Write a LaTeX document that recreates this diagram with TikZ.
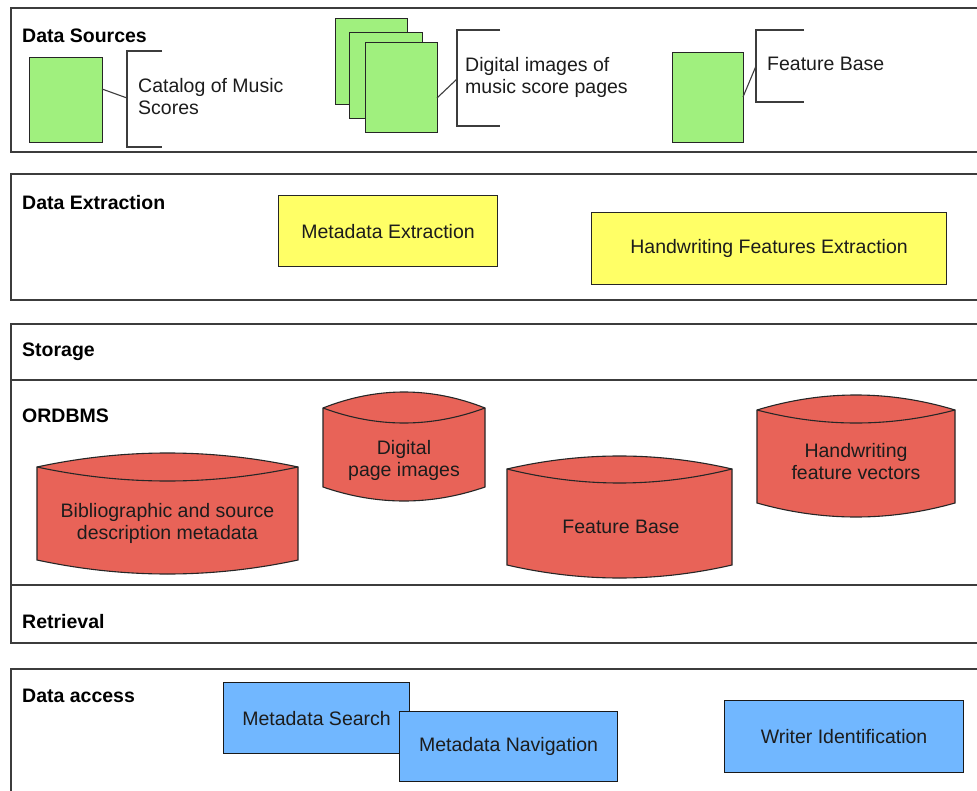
\documentclass[tikz,border=0pt]{standalone}
\usepackage{fontspec}
\setmainfont{Liberation Sans}
\usetikzlibrary{calc}

\definecolor{frameline}{HTML}{3C3C3C}
\definecolor{srcgreen}{HTML}{A0F07E}
\definecolor{extyellow}{HTML}{FFFF66}
\definecolor{dbred}{HTML}{E86358}
\definecolor{accblue}{HTML}{71B7FF}
\definecolor{inktext}{HTML}{1C1C1C}

\tikzset{
  layerframe/.style={draw=frameline, line width=1.6pt},
  layertitle/.style={anchor=base west, inner sep=0pt, text=black,
    font=\fontsize{19.5}{22}\selectfont\bfseries},
  plaintext/.style={inner sep=0pt, text=inktext,
    font=\fontsize{19.5}{22}\selectfont},
  docsheet/.style={draw=black!85, line width=1.1pt, fill=srcgreen,
    inner sep=0pt, anchor=north west},
  callout/.style={draw=frameline, line width=1.1pt},
  procbox/.style={draw=black!85, line width=1.1pt, fill=extyellow,
    inner sep=0pt, anchor=north west, text=inktext,
    font=\fontsize{19.5}{22}\selectfont},
  accessbox/.style={draw=black!90, line width=1.1pt, fill=accblue,
    inner sep=0pt, anchor=north west, text=inktext,
    font=\fontsize{19.5}{22}\selectfont},
  dbshape/.style={fill=dbred, draw=black!85, line width=1.1pt},
  dbline/.style={draw=black!85, line width=1.1pt},
}

% database cylinder: x left, x right, lid peak, lid corners, lid lower arc,
% bottom corners, bottom arc (each arc a parabola through its corners)
\newcommand{\dbcyl}[7]{%
  \path[dbshape] (#1,#4)
    .. controls ({#1+(#2-#1)/3},{#4+(#3-#4)*4/3}) and ({#2-(#2-#1)/3},{#4+(#3-#4)*4/3}) .. (#2,#4)
    -- (#2,#6)
    .. controls ({#2-(#2-#1)/3},{#6+(#7-#6)*4/3}) and ({#1+(#2-#1)/3},{#6+(#7-#6)*4/3}) .. (#1,#6)
    -- cycle;
  \draw[dbline] (#1,#4)
    .. controls ({#1+(#2-#1)/3},{#4+(#5-#4)*4/3}) and ({#2-(#2-#1)/3},{#4+(#5-#4)*4/3}) .. (#2,#4);
}

\begin{document}
\begin{tikzpicture}[x=1pt, y=-1pt]
\useasboundingbox[fill=white] (0,0) rectangle (977,791);
\clip (0,0) rectangle (977,791);

% ---------- layer frames ----------
\draw[layerframe] (990,8) -- (11,8) -- (11,152) -- (990,152);
\draw[layerframe] (990,174) -- (11,174) -- (11,300) -- (990,300);
\draw[layerframe] (990,324) -- (11,324) -- (11,643) -- (990,643);
\draw[layerframe] (11,380) -- (990,380);
\draw[layerframe] (11,585) -- (990,585);
\draw[layerframe] (990,669) -- (11,669) -- (11,800);

% ---------- layer titles ----------
\node[layertitle] (tSources) at (22,43) {Data Sources};
\node[layertitle] (tExtract) at (22,210) {Data Extraction};
\node[layertitle] (tStorage) at (22,357) {Storage};
\node[layertitle] (tOrdbms) at (22,422) {ORDBMS};
\node[layertitle] (tRetrieval) at (22,628) {Retrieval};
\node[layertitle] (tAccess) at (22,702) {Data access};

% ---------- data sources ----------
\node[docsheet, minimum width=73pt, minimum height=85pt] (catalog) at (29,57) {};
\draw[callout] (162,51) -- (127,51) -- (127,147) -- (162,147);
\coordinate (catBr) at (127,98);
\coordinate (catOut) at (102,89);
\draw[callout] (catOut) -- (catBr);
\node[plaintext, anchor=base west, align=left] (catText) at (138,115)
  {Catalog of Music\\Scores};

\node[docsheet, minimum width=72pt, minimum height=86pt] (page1) at (335,18) {};
\node[docsheet, minimum width=73pt, minimum height=86pt] (page2) at (349,32) {};
\node[docsheet, minimum width=72pt, minimum height=90pt] (page3) at (365,42) {};
\draw[callout] (500,30) -- (457,30) -- (457,126) -- (500,126);
\coordinate (pgBr) at (457,79);
\coordinate (pgOut) at (437,98);
\draw[callout] (pgOut) -- (pgBr);
\node[plaintext, anchor=base west, align=left] (pgText) at (465,94)
  {Digital images of\\music score pages};

\node[docsheet, minimum width=71pt, minimum height=90pt] (featsrc) at (672,52) {};
\draw[callout] (804,30) -- (756,30) -- (756,102) -- (804,102);
\coordinate (fbBr) at (756,66);
\coordinate (fbOut) at (743,97);
\draw[callout] (fbOut) -- (fbBr);
\node[plaintext, anchor=base west] (fbText) at (767,71) {Feature Base};

% ---------- data extraction ----------
\node[procbox, minimum width=219pt, minimum height=71pt] (metaExt) at (278,195)
  {Metadata Extraction};
\node[procbox, minimum width=355pt, minimum height=72pt] (hwExt) at (591,212)
  {Handwriting Features Extraction};

% ---------- storage ----------
\dbcyl{37}{298}{453}{467}{481}{560}{574}
\node[plaintext, align=center] (dbBib) at (167.5,523)
  {Bibliographic and source\\description metadata};
\dbcyl{323}{485}{392}{408}{423}{487}{501}
\node[plaintext, align=center] (dbPages) at (404,460) {Digital\\page images};
\dbcyl{507}{732}{456}{469}{483}{565}{578}
\node[plaintext] (dbFeat) at (621,527) {Feature Base};
\dbcyl{757}{955}{395}{410}{423}{503}{517}
\node[plaintext, align=center] (dbHw) at (856,462) {Handwriting\\feature vectors};

% ---------- data access ----------
\node[accessbox, minimum width=186pt, minimum height=71pt] (mdSearch) at (223,682)
  {Metadata Search};
\node[accessbox, minimum width=218pt, minimum height=70pt] (mdNav) at (399,711)
  {Metadata Navigation};
\node[accessbox, minimum width=239pt, minimum height=72pt] (writerId) at (724,700)
  {Writer Identification};
\end{tikzpicture}
\end{document}
